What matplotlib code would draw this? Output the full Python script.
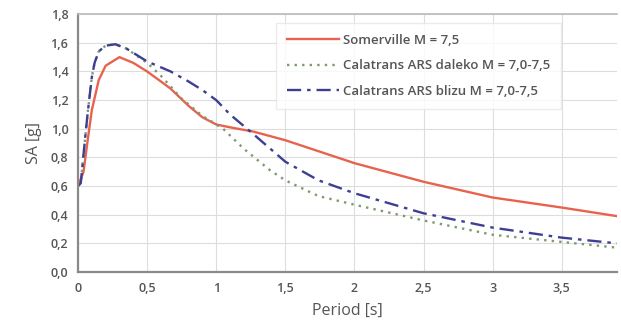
import matplotlib.pyplot as plt
import numpy as np

plt.rcParams['font.family'] = ['Open Sans', 'DejaVu Sans']
plt.rcParams['font.weight'] = 600

# Somerville M = 7,5
t_som = [0.0, 0.04, 0.07, 0.1, 0.15, 0.2, 0.3, 0.4, 0.5, 0.6, 0.67, 0.8, 0.9, 1.0, 1.1, 1.27, 1.5, 1.75, 2.0, 2.5, 3.0, 3.5, 3.9]
sa_som = [0.6, 0.70, 0.92, 1.13, 1.34, 1.44, 1.50, 1.46, 1.40, 1.33, 1.28, 1.16, 1.08, 1.03, 1.01, 0.98, 0.92, 0.84, 0.76, 0.63, 0.52, 0.45, 0.39]

# Calatrans ARS daleko M = 7,0-7,5
t_dal = [0.0, 0.02, 0.05, 0.07, 0.1, 0.12, 0.15, 0.2, 0.27, 0.35, 0.5, 0.6, 0.75, 0.9, 1.05, 1.2, 1.39, 1.5, 1.74, 2.0, 2.5, 3.0, 3.5, 3.9]
sa_dal = [0.6, 0.62, 0.92, 1.11, 1.36, 1.46, 1.54, 1.58, 1.59, 1.56, 1.46, 1.37, 1.21, 1.09, 1.0, 0.86, 0.71, 0.64, 0.53, 0.47, 0.36, 0.26, 0.21, 0.17]

# Calatrans ARS blizu M = 7,0-7,5
t_bli = [0.0, 0.02, 0.05, 0.07, 0.1, 0.12, 0.15, 0.2, 0.27, 0.35, 0.5, 0.67, 0.8, 0.9, 1.0, 1.1, 1.26, 1.5, 1.74, 2.0, 2.5, 3.0, 3.5, 3.9]
sa_bli = [0.6, 0.62, 0.92, 1.11, 1.36, 1.46, 1.54, 1.58, 1.59, 1.56, 1.47, 1.40, 1.33, 1.27, 1.20, 1.10, 0.97, 0.77, 0.64, 0.55, 0.41, 0.31, 0.24, 0.20]

x_ticks = [0, 0.5, 1, 1.5, 2, 2.5, 3, 3.5]
x_labels = ['0', '0,5', '1', '1,5', '2', '2,5', '3', '3,5']
y_ticks = [0.0, 0.2, 0.4, 0.6, 0.8, 1.0, 1.2, 1.4, 1.6, 1.8]
y_labels = ['0,0', '0,2', '0,4', '0,6', '0,8', '1,0', '1,2', '1,4', '1,6', '1,8']

txt = '#555555'
fig = plt.figure(figsize=(6.21, 3.34), dpi=100)
ax = fig.add_axes([0.1256, 0.1856, 0.868, 0.772])

ax.plot(t_som, sa_som, color='#e8634f', lw=1.7, label='Somerville M = 7,5')
ax.plot(t_dal, sa_dal, color='#7f9870', lw=1.7, ls=(0, (1, 2.2)), label='Calatrans ARS daleko M = 7,0-7,5')
ax.plot(t_bli, sa_bli, color='#3d3f92', lw=1.7, ls=(0, (6, 2.5, 1.5, 2.5)), label='Calatrans ARS blizu M = 7,0-7,5')

ax.set_xlim(0, 3.9)
ax.set_ylim(0, 1.8)
ax.set_xticks(x_ticks)
ax.set_xticklabels(x_labels)
ax.set_yticks(y_ticks)
ax.set_yticklabels(y_labels)
ax.tick_params(length=0, labelsize=9, colors=txt, pad=7)
ax.grid(True, color='#dddddd', lw=0.8)
ax.set_axisbelow(True)

ax.spines['right'].set_visible(False)
for s in ['left', 'bottom']:
    ax.spines[s].set_color('#8a8a8a')
    ax.spines[s].set_linewidth(1.6)
ax.spines['top'].set_color('#bbbbbb')
ax.spines['top'].set_linewidth(1.2)

ax.set_xlabel('Period [s]', fontsize=11.5, color=txt, labelpad=6)
ax.set_ylabel('SA [g]', fontsize=11.5, color=txt, labelpad=6)

leg = ax.legend(loc='upper left', bbox_to_anchor=(0.355, 0.99), fontsize=9.5,
                frameon=True, fancybox=False, handlelength=4.0, labelspacing=0.95,
                borderpad=0.8, handletextpad=0.3)
leg.get_frame().set_edgecolor('#e6e6e6')
for t in leg.get_texts():
    t.set_color(txt)

fig.savefig('out.png', dpi=100)
